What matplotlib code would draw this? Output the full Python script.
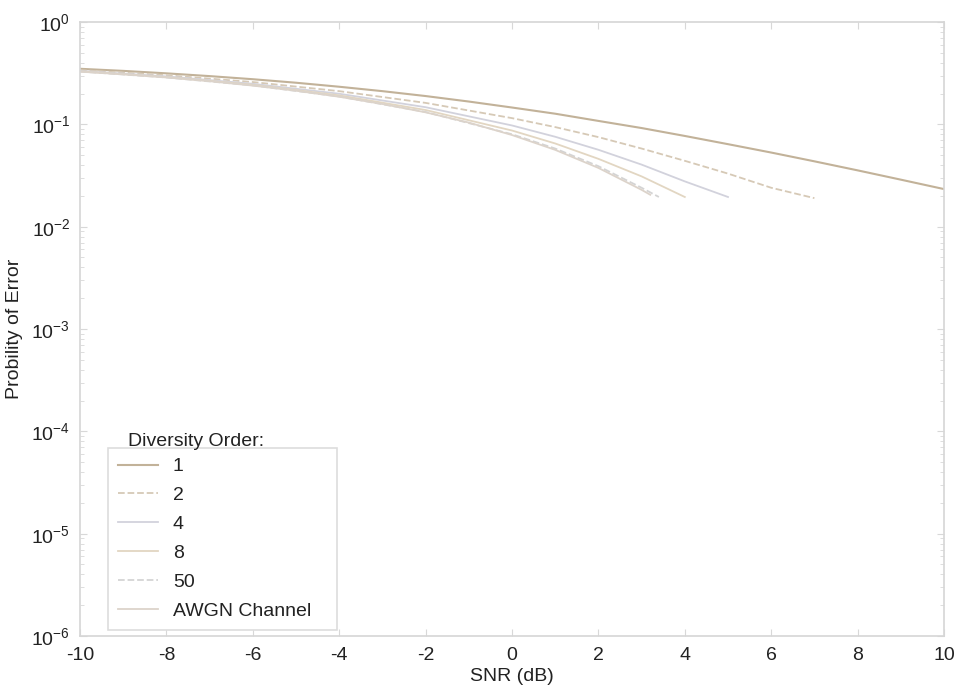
import matplotlib
matplotlib.use("Agg")
import matplotlib.pyplot as plt
from matplotlib.ticker import LogLocator, NullFormatter

plt.rcParams["font.family"] = ["Liberation Sans", "DejaVu Sans"]
plt.rcParams["axes.unicode_minus"] = False
plt.rcParams["mathtext.fontset"] = "custom"
plt.rcParams["mathtext.rm"] = "Liberation Sans"
plt.rcParams["mathtext.it"] = "Liberation Sans"

snr_div1 = [-10, -9, -8, -7, -6, -5, -4, -3, -2, -1, 0, 1, 2, 3, 4, 5, 6, 7, 8, 9, 10]
pe_div1 = [0.349, 0.333, 0.315, 0.296, 0.276, 0.255, 0.233, 0.211, 0.189, 0.167, 0.146,
           0.127, 0.108, 0.092, 0.077, 0.064, 0.053, 0.0435, 0.0355, 0.0288, 0.0233]

snr_div2 = [-10, -8, -6, -4, -2, 0, 1, 2, 3, 4, 5, 6, 7]
pe_div2 = [0.339, 0.302, 0.259, 0.211, 0.162, 0.115, 0.094, 0.075, 0.058, 0.044, 0.033, 0.024, 0.019]

snr_div4 = [-10, -8, -6, -4, -2, 0, 1, 2, 3, 4, 5]
pe_div4 = [0.333, 0.294, 0.249, 0.199, 0.147, 0.0975, 0.0756, 0.0564, 0.0404, 0.0277, 0.0195]

snr_div8 = [-10, -8, -6, -4, -2, 0, 1, 2, 3, 4]
pe_div8 = [0.330, 0.290, 0.244, 0.192, 0.138, 0.087, 0.065, 0.046, 0.031, 0.0195]

snr_div50 = [-10, -8, -6, -4, -2, 0, 1, 2, 3, 3.4]
pe_div50 = [0.328, 0.287, 0.240, 0.187, 0.132, 0.080, 0.058, 0.039, 0.024, 0.0195]

snr_awgn = [-10, -9, -8, -7, -6, -5, -4, -3, -2, -1, 0, 1, 2, 3, 3.2]
pe_awgn = [0.327, 0.308, 0.287, 0.264, 0.239, 0.213, 0.186, 0.158, 0.131, 0.104, 0.0786,
           0.0563, 0.0375, 0.0229, 0.0205]

labels = ["1", "2", "4", "8", "50", "AWGN Channel"]

fs = 14
txt = "#222222"

fig = plt.figure(figsize=(9.6, 7.0), dpi=100)
ax = fig.add_axes([80 / 960, 1 - 636 / 700, (944 - 80) / 960, (636 - 22) / 700])

ax.semilogy(snr_div1, pe_div1, "-", color="#c2b299", lw=1.5, label=labels[0])
ax.semilogy(snr_div2, pe_div2, "--", color="#d6c9b6", lw=1.3, label=labels[1])
ax.semilogy(snr_div4, pe_div4, "-", color="#d2d2dc", lw=1.3, label=labels[2])
ax.semilogy(snr_div8, pe_div8, "-", color="#e2d6c2", lw=1.3, label=labels[3])
ax.semilogy(snr_div50, pe_div50, "--", color="#d4d4d4", lw=1.3, label=labels[4])
ax.semilogy(snr_awgn, pe_awgn, "-", color="#dcd3ca", lw=1.3, label=labels[5])

ax.set_xlim(-10, 10)
ax.set_ylim(1e-6, 1)
ax.set_xticks(range(-10, 11, 2))
ax.yaxis.set_major_locator(LogLocator(base=10, numticks=10))
ax.yaxis.set_minor_locator(LogLocator(base=10, subs=range(2, 10), numticks=20))
ax.yaxis.set_minor_formatter(NullFormatter())
ax.tick_params(which="both", direction="in", top=True, right=True,
               color="#d8d8d8", labelcolor=txt, labelsize=fs)
ax.tick_params(which="major", length=5)
ax.tick_params(which="minor", length=3)
ax.tick_params(axis="x", pad=8)
ax.tick_params(axis="y", pad=7)
for s in ax.spines.values():
    s.set_color("#d6d6d6")
    s.set_linewidth(1.2)

ax.set_xlabel("SNR (dB)", fontsize=fs, color=txt, labelpad=3)
ax.set_ylabel("Probility of Error", fontsize=fs, color=txt, labelpad=6)

leg = ax.legend(loc="upper left", bbox_to_anchor=(108 / 960, 1 - 455 / 700, 229 / 960, 0.01),
                bbox_transform=fig.transFigure, mode="expand", borderaxespad=0,
                fontsize=fs, labelspacing=0.58, handlelength=2.06, handletextpad=0.77,
                borderpad=0.5, fancybox=False, framealpha=1)
leg.get_frame().set_edgecolor("#dddddd")
leg.get_frame().set_linewidth(1.2)
for t in leg.get_texts():
    t.set_color(txt)
fig.text(128 / 960, 1 - 441 / 700, "Diversity Order:", fontsize=fs, color=txt,
         va="center", ha="left")

fig.savefig("out.png", dpi=100)
